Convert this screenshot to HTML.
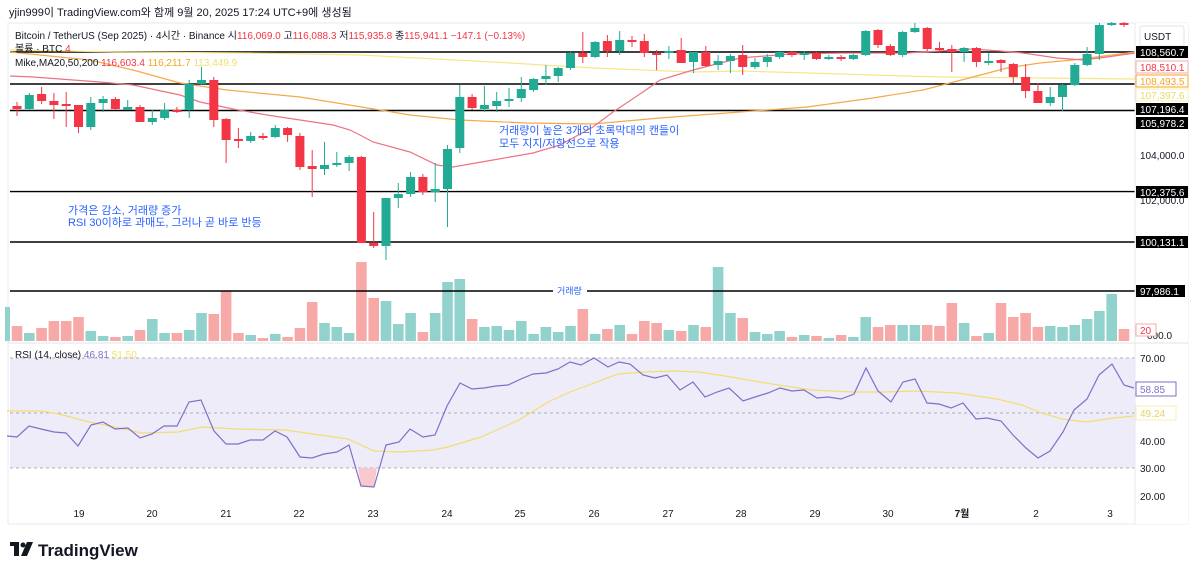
<!DOCTYPE html>
<html><head><meta charset="utf-8">
<style>
html,body{margin:0;padding:0;background:#fff;width:1200px;height:574px;overflow:hidden}
svg text{font-family:"Liberation Sans","Noto Sans CJK KR",sans-serif}
</style></head><body>
<svg id="s" width="1200" height="574" xmlns="http://www.w3.org/2000/svg">
<rect width="1200" height="574" fill="#fff"/>
<text x="9" y="16" font-size="11" fill="#131722">yjin999이 TradingView.com와 함께 9월 20, 2025 17:24 UTC+9에 생성됨</text>
<rect x="8" y="23" width="1180" height="501" fill="none" stroke="#e6e8ee"/>
<rect x="10" y="358" width="1125" height="110" fill="#efecf9"/>
<g id="g"></g>
<!-- legend -->
<text x="15" y="39" font-size="10" fill="#131722">Bitcoin / TetherUS (Sep 2025) · 4시간 · Binance  시<tspan fill="#f23645">116,069.0</tspan> 고<tspan fill="#f23645">116,088.3</tspan> 저<tspan fill="#f23645">115,935.8</tspan> 종<tspan fill="#f23645">115,941.1 −147.1 (−0.13%)</tspan></text>
<text x="15" y="52" font-size="10" fill="#131722">볼륨 · BTC <tspan fill="#f23645">4</tspan></text>
<text x="15" y="66" font-size="10" fill="#131722">Mike,MA20,50,200 <tspan fill="#f23645"> 116,603.4 </tspan><tspan fill="#f5a623"> 116,211.7 </tspan><tspan fill="#f0e070"> 113,449.9</tspan></text>
<!-- annotations -->
<text x="68" y="214" font-size="11" fill="#2962ff">가격은 감소, 거래량 증가</text>
<text x="68" y="226" font-size="11" fill="#2962ff">RSI 30이하로 과매도, 그러나 곧 바로 반등</text>
<text x="499" y="134" font-size="11" fill="#2962ff">거래량이 높은 3개의 초록막대의 캔들이</text>
<text x="499" y="147" font-size="11" fill="#2962ff">모두 지지/저항선으로 작용</text>
<rect x="553" y="285" width="34" height="12" fill="#fff"/>
<text x="557" y="294" font-size="9" fill="#2962ff">거래량</text>
<text x="15" y="358" font-size="10" fill="#131722">RSI (14, close) <tspan fill="#7e6fc9">46.81</tspan> <tspan fill="#f0e070">51.50</tspan></text>
<!-- right axis -->
<rect x="1135" y="23" width="53" height="501" fill="#fff"/>
<line x1="1135" y1="23" x2="1135" y2="524" stroke="#e6e8ee"/>
<rect x="1140" y="26" width="44" height="20" fill="#fff" stroke="#e0e3eb" rx="2"/>
<text x="1144" y="40" font-size="10" fill="#131722">USDT</text>
<g font-size="10">
<rect x="1136" y="46" width="52" height="12" fill="#000"/><text x="1140" y="56" fill="#fff">108,560.7</text>
<rect x="1136" y="61" width="52" height="12" fill="#fff" stroke="#f7a9a7"/><text x="1140" y="71" fill="#f23645">108,510.1</text>
<rect x="1136" y="75" width="52" height="12" fill="#fff" stroke="#f5a623"/><text x="1140" y="85" fill="#f5a623">108,493.5</text>
<rect x="1136" y="89" width="52" height="12" fill="#fff" stroke="#f7efb0"/><text x="1140" y="99" fill="#e8d870">107,397.6</text>
<rect x="1136" y="103" width="52" height="12" fill="#000"/><text x="1140" y="113" fill="#fff">107,196.4</text>
<rect x="1136" y="117" width="52" height="12" fill="#000"/><text x="1140" y="127" fill="#fff">105,978.2</text>
<text x="1140" y="159" fill="#131722">104,000.0</text>
<text x="1140" y="204" fill="#131722">102,000.0</text>
<rect x="1136" y="186" width="52" height="12" fill="#000"/><text x="1140" y="196" fill="#fff">102,375.6</text>
<rect x="1136" y="236" width="52" height="12" fill="#000"/><text x="1140" y="246" fill="#fff">100,131.1</text>
<rect x="1136" y="285" width="49" height="12" fill="#000"/><text x="1140" y="295" fill="#fff">97,986.1</text>
<text x="1147" y="339" fill="#131722">000.0</text>
<rect x="1136" y="324" width="20" height="12" fill="#fff" stroke="#f7a9a7"/><text x="1140" y="334" fill="#f23645">20</text>
<text x="1140" y="362" fill="#131722">70.00</text>
<rect x="1136" y="382" width="40" height="14" fill="#fff" stroke="#7e6fc9"/><text x="1140" y="393" fill="#7e6fc9">58.85</text>
<rect x="1136" y="406" width="40" height="14" fill="#fff" stroke="#f7efb0"/><text x="1140" y="417" fill="#e8d060">49.24</text>
<text x="1140" y="445" fill="#131722">40.00</text>
<text x="1140" y="472" fill="#131722">30.00</text>
<text x="1140" y="500" fill="#131722">20.00</text>
</g>
<line x1="8" y1="343" x2="1188" y2="343" stroke="#e0e3eb"/>
<g font-size="10" fill="#131722" text-anchor="middle">
<text x="79" y="517">19</text><text x="152" y="517">20</text><text x="226" y="517">21</text><text x="299" y="517">22</text><text x="373" y="517">23</text><text x="447" y="517">24</text><text x="520" y="517">25</text><text x="594" y="517">26</text><text x="668" y="517">27</text><text x="741" y="517">28</text><text x="815" y="517">29</text><text x="888" y="517">30</text><text x="962" y="517" font-weight="bold">7월</text><text x="1036" y="517">2</text><text x="1110" y="517">3</text>
</g>
<!-- logo -->
<g fill="#131722">
<rect x="10" y="542" width="9" height="4"/><rect x="14" y="542" width="5" height="14"/>
<circle cx="23" cy="545" r="2.5"/><polygon points="27,542 33,542 27,556 21,556"/>
</g>
<text x="38" y="556" font-size="17" font-weight="bold" fill="#131722">TradingView</text>
</svg>
<script>
var C=[
['r',106,109,102,116],['g',95,109,93,110],['r',94,101,87,104],['r',101,105,93,119],['r',104,105,92,127],
['r',105,127,105,133],['g',103,127,97,130],['g',99,103,96,112],['r',99,109,97,110],['g',107,110,100,110],
['r',107,122,105,122],['g',118,122,110,125],['g',110,118,103,120],['r',110,111,107,113],['g',84,110,80,118],
['g',80,84,67,85],['r',80,120,77,127],['r',119,140,118,163],['r',139,141,128,148],['g',136,141,132,143],
['r',136,138,133,140],['g',128,137,125,138],['r',128,135,127,142],['r',136,167,133,170],['r',166,169,150,197],
['g',165,169,142,175],['g',163,165,152,167],['g',157,163,155,171],['r',157,243,156,243],['r',243,246,212,248],
['g',198,246,198,260],['g',194,198,183,208],['g',177,194,172,197],['r',177,192,174,195],['g',189,192,163,202],
['g',149,189,145,227],['g',97,148,85,153],['r',97,108,94,110],['g',105,109,86,112],['g',101,106,92,112],
['g',99,101,88,107],['g',89,98,77,102],['g',79,90,78,92],['g',76,79,65,85],['g',68,76,67,82],
['g',53,68,52,70],['r',53,57,32,63],['g',42,57,41,58],['r',41,51,35,57],['g',40,51,31,55],
['r',40,42,36,47],['r',41,53,34,57],['r',53,54,50,70],['g',51,53,46,59],['r',50,63,38,63],
['g',52,62,52,73],['r',52,66,46,67],['g',61,65,55,70],['g',56,61,54,73],['r',55,67,45,75],
['g',62,67,58,69],['g',57,62,54,67],['g',52,57,51,59],['r',52,55,51,57],['g',53,55,51,60],
['r',53,59,52,60],['g',57,59,55,60],['r',57,59,55,61],['g',55,59,54,60],['g',31,55,30,56],
['r',30,45,29,48],['r',46,55,44,56],['g',32,55,31,57],['g',28,32,23,33],['r',28,49,27,51],
['r',48,49,42,53],['r',49,52,45,72],['g',48,52,47,62],['r',48,62,47,67],['g',61,62,53,65],
['r',60,63,59,72],['r',64,77,63,83],['r',77,91,64,98],['r',91,103,83,103],['g',97,103,87,106],
['g',85,97,84,111],['g',65,85,63,86],['g',54,65,47,66],['g',25,54,23,60],['g',23,25,22,26],['r',23,25,22,27]];
var V=[326,333,328,321,321,317,331,336,337,336,330,319,333,333,330,313,314,291,333,335,338,334,337,328,302,323,327,333,262,298,301,324,313,332,313,282,279,319,327,326,330,321,334,327,332,326,309,334,329,325,334,321,323,330,331,325,327,267,313,318,332,334,331,337,335,336,338,335,337,317,327,325,325,325,325,326,303,323,336,333,303,317,313,327,326,327,325,319,311,294,329];
var ma20="10,76 33,77 100,82 133,85 180,95 200,102 233,109 267,115 300,120 333,125 350,130 360,135 373,142 410,152 437,165 453,167 493,160 533,153 560,145 593,127 613,112 643,92 660,80 693,70 740,58 790,54 840,53 907,53 973,49 1000,51 1023,53 1057,58 1083,60 1107,57 1135,53";
var ma50="10,52 90,60 133,70 180,83 227,90 300,97 380,110 410,115 460,120 527,123 593,124 660,118 740,112 807,107 873,98 923,90 973,77 1007,68 1040,63 1073,60 1135,52";
var ma200="10,50 120,52 250,53 360,55 493,62 593,68 693,72 740,71 940,77 1135,79";
var rsi="7,436 17,437 29,426 41,429 54,432 66,433 78,446 91,425 103,422 115,429 128,428 140,438 152,434 164,426 177,426 189,402 201,400 214,431 226,444 238,444 250,440 263,440 275,431 287,437 300,457 312,458 324,454 337,452 349,445 361,486 374,487 386,445 399,442 410,429 423,437 435,435 447,406 460,383 472,389 484,388 496,386 508,385 521,379 533,374 546,373 558,369 570,362 581,365 594,358 608,367 619,362 630,364 643,375 655,378 667,375 680,390 693,382 705,397 717,392 729,388 743,401 755,397 768,393 780,388 792,391 804,390 817,398 828,397 841,399 854,394 866,368 878,391 891,402 903,382 915,379 927,403 939,404 951,408 963,403 976,419 987,418 1001,421 1013,435 1026,448 1038,458 1050,451 1063,432 1074,410 1087,399 1099,375 1112,364 1124,385 1134,388";
var rsiMa="7,411 41,411 59,414 89,422 115,427 141,433 178,432 202,427 237,429 285,430 348,439 374,451 400,452 433,450 448,447 481,437 519,420 548,402 570,392 594,383 618,374 643,372 675,371 699,372 731,377 772,384 812,390 852,392 884,392 917,391 957,393 997,399 1022,405 1042,413 1062,419 1086,422 1114,418 1134,416";
var h='';
// rsi guide lines
[358,413,468].forEach(function(y){h+='<line x1="10" y1="'+y+'" x2="1135" y2="'+y+'" stroke="#9598a1" stroke-dasharray="3,3" stroke-width="0.8"/>';});
h+='<polygon points="358,468 361,486 374,487 377,468" fill="#f8c9cc"/>';
// volume
h+='<rect x="5" y="307" width="5" height="34" fill="#92d2cc"/>';
for(var i=0;i<C.length;i++){var x=17+i*12.3;var c=C[i][0]=='g'?'#92d2cc':'#f7a9a7';
h+='<rect x="'+(x-5.3).toFixed(1)+'" y="'+V[i]+'" width="10.6" height="'+(341-V[i])+'" fill="'+c+'"/>';}
// horizontal levels
[52,84,110.5,191.6,242,291].forEach(function(y){h+='<line x1="10" y1="'+y+'" x2="1135" y2="'+y+'" stroke="#000" stroke-width="1.4"/>';});
h+='<polyline points="'+ma200+'" fill="none" stroke="#f7e58a" stroke-width="1.2"/>';
h+='<polyline points="'+ma50+'" fill="none" stroke="#f5a94a" stroke-width="1.2"/>';
h+='<polyline points="'+ma20+'" fill="none" stroke="#eb7382" stroke-width="1.2"/>';
for(var i=0;i<C.length;i++){var d=C[i],x=17+i*12.3,c=d[0]=='g'?'#22ab94':'#f23645';
h+='<line x1="'+x.toFixed(1)+'" y1="'+d[3]+'" x2="'+x.toFixed(1)+'" y2="'+d[4]+'" stroke="'+c+'" stroke-width="1"/>';
h+='<rect x="'+(x-4.5).toFixed(1)+'" y="'+d[1]+'" width="9" height="'+Math.max(2,d[2]-d[1])+'" fill="'+c+'"/>';}
h+='<polyline points="'+rsiMa+'" fill="none" stroke="#f5dc72" stroke-width="1.2"/>';
h+='<polyline points="'+rsi+'" fill="none" stroke="#7e6fc9" stroke-width="1.2"/>';
document.getElementById('g').innerHTML=h;
</script>
</body></html>
